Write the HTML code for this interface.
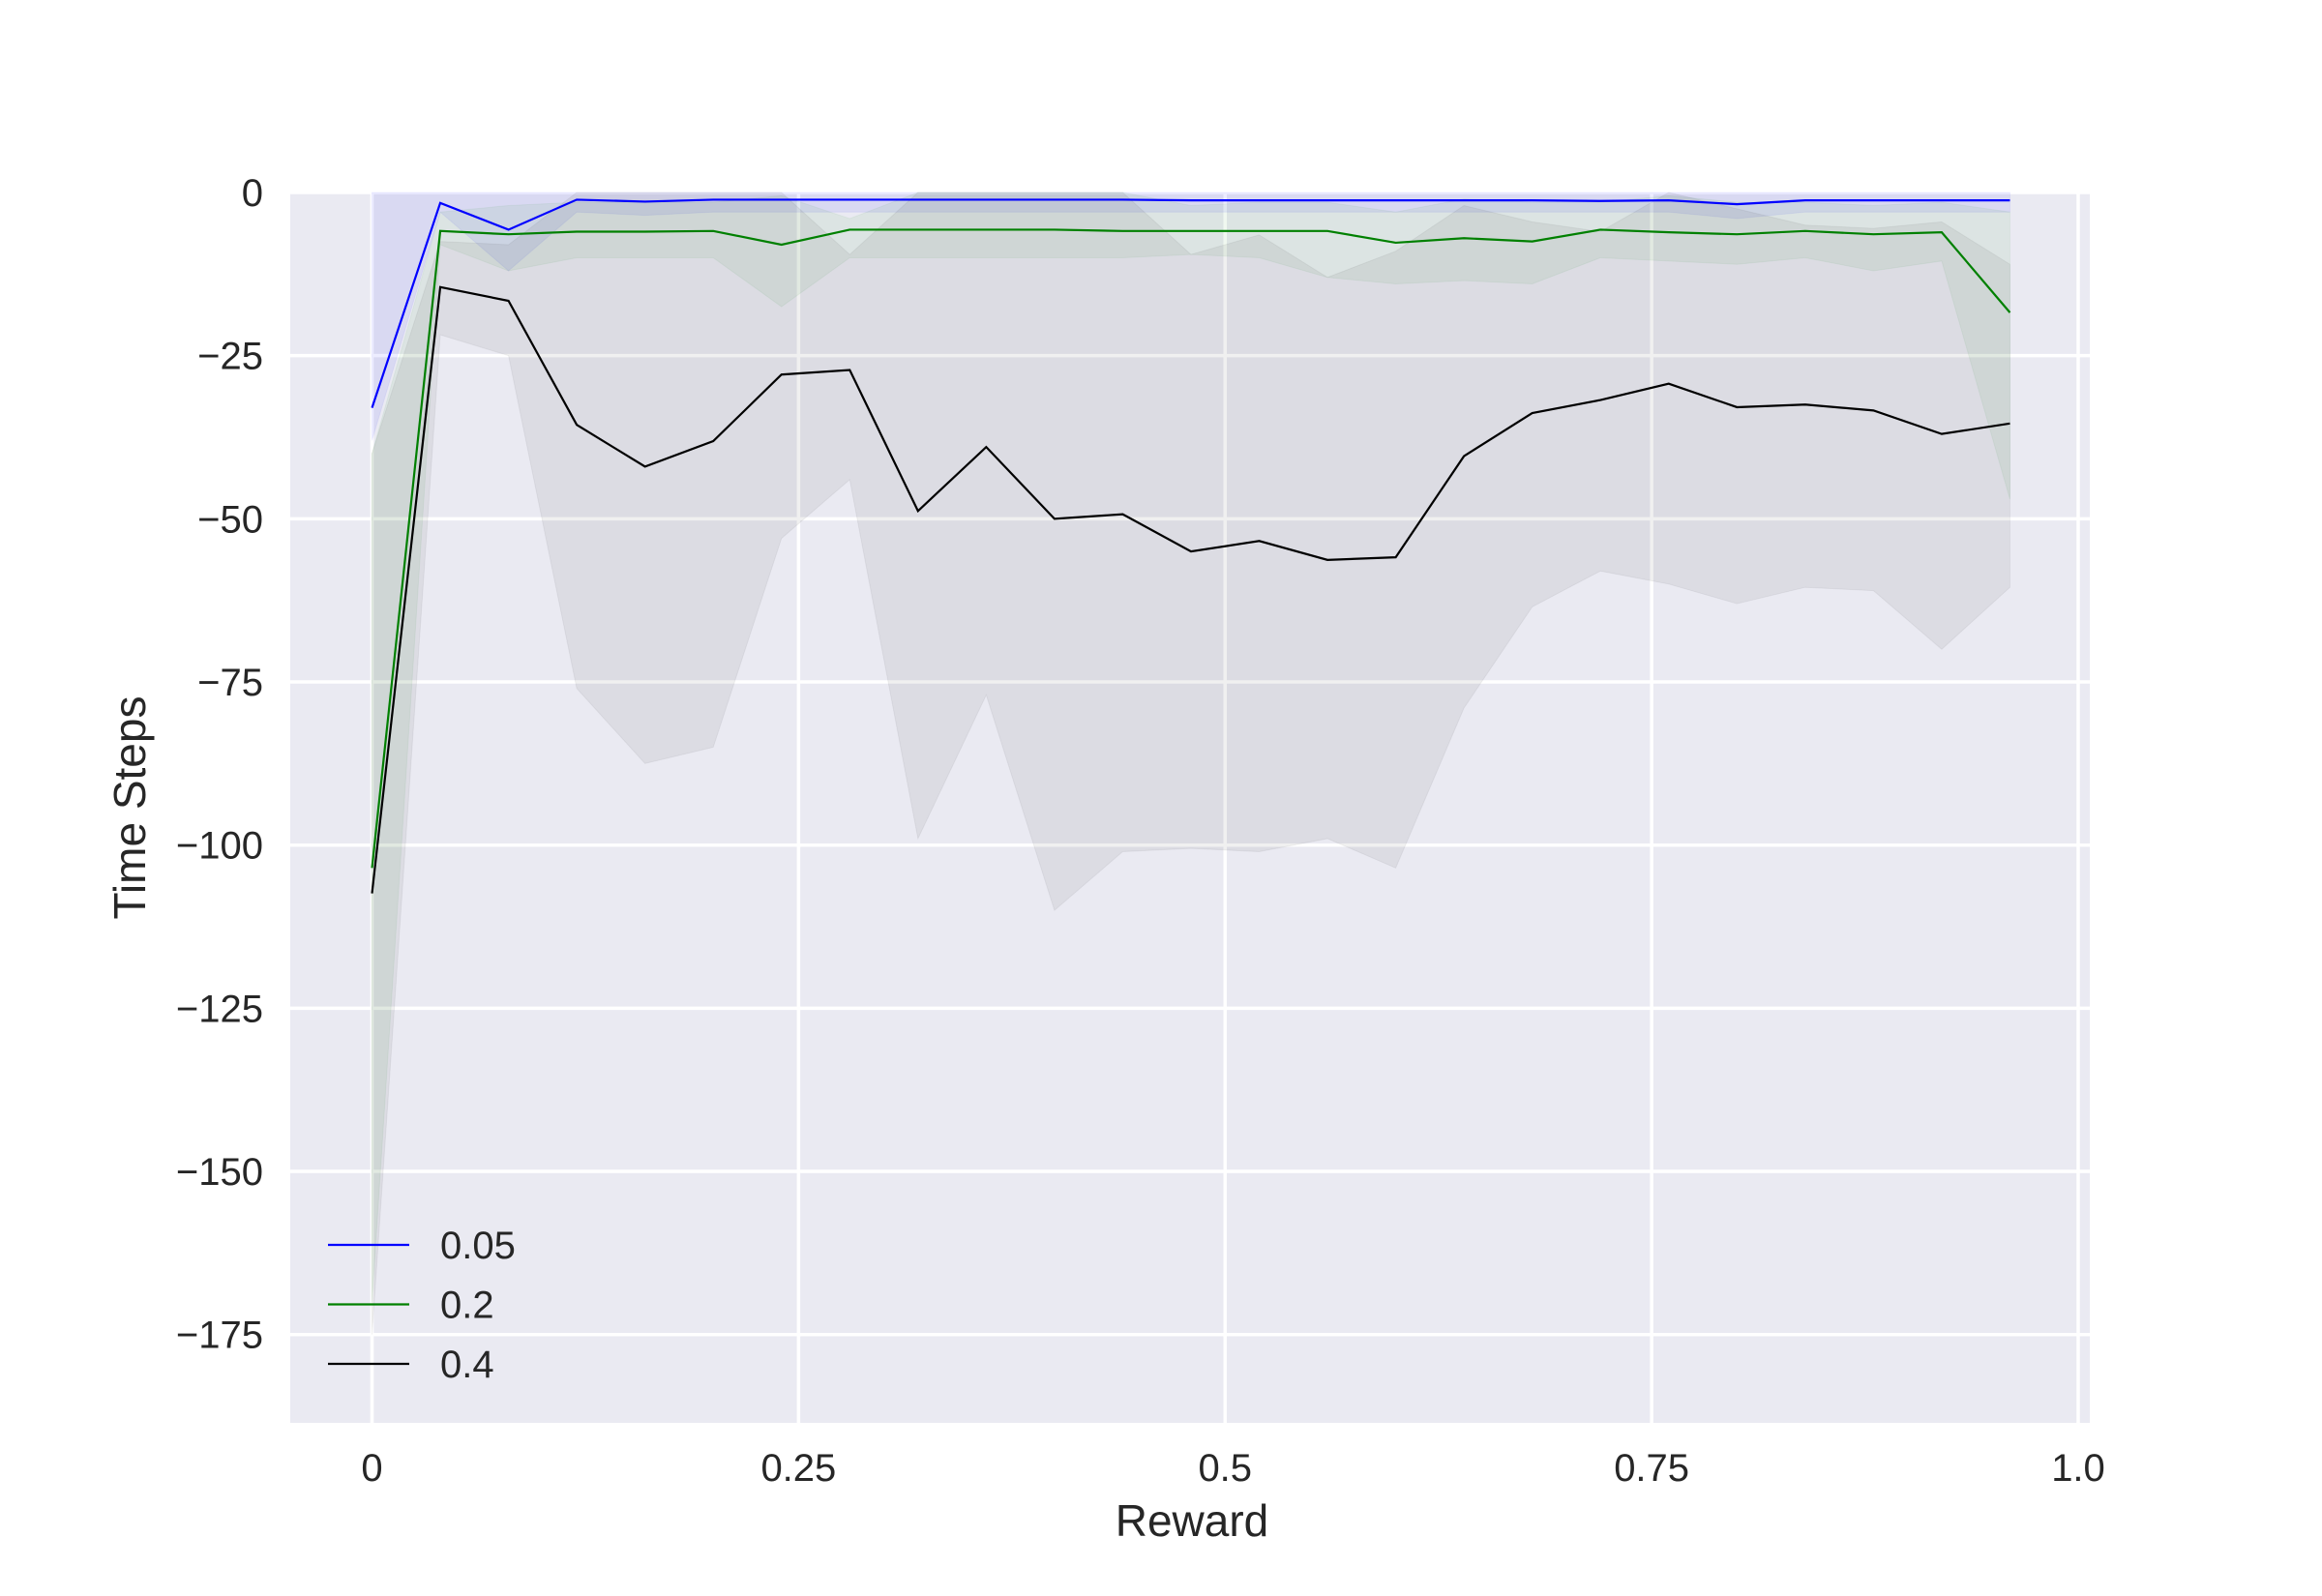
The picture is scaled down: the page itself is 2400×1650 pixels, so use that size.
<!DOCTYPE html>
<html><head><meta charset="utf-8"><style>
html,body{margin:0;padding:0;background:#fff;}
svg{display:block;font-family:"Liberation Sans",sans-serif;}
</style></head><body>
<svg id="chart" width="2400" height="1650" viewBox="0 0 2400 1650" xmlns="http://www.w3.org/2000/svg">
<rect x="300" y="199" width="1860" height="1272" fill="#eaeaf2"/>
<g id="grid"></g>
<g id="bands"></g>
<g id="lines"></g>
<g id="ticks"></g>
<text x="1232" y="1588" font-size="46" fill="#262626" text-anchor="middle">Reward</text>
<text x="150" y="835" font-size="46" fill="#262626" text-anchor="middle" transform="rotate(-90 150 835)">Time Steps</text>
<g id="legend"></g>
</svg>
<script>
const xs = [0,0.04,0.08,0.12,0.16,0.2,0.24,0.28,0.32,0.36,0.4,0.44,0.48,0.52,0.56,0.6,0.64,0.68,0.72,0.76,0.8,0.84,0.88,0.92,0.96];
const labels = ["0.05","0.2","0.4"];
const colors = ["#0000ff","#008000","#000000"];
const blueMean = [-33,-1.6,-5.7,-1.1,-1.4,-1.1,-1.1,-1.1,-1.1,-1.1,-1.1,-1.1,-1.2,-1.2,-1.2,-1.2,-1.2,-1.2,-1.3,-1.2,-1.8,-1.2,-1.2,-1.2,-1.2];
const blueLow = [-38,-3,-12,-3,-3.5,-3,-3,-3,-3,-3,-3,-3,-3,-3,-3,-3,-3,-3,-3,-3,-4,-3,-3,-3,-3];
const blueHigh = [0,0,0,0,0,0,0,0,0,0,0,0,0,0,0,0,0,0,0,0,0,0,0,0,0];
const greenMean = [-103.5,-5.9,-6.4,-6,-6,-5.9,-8,-5.7,-5.7,-5.7,-5.7,-5.9,-5.9,-5.9,-5.9,-7.7,-7,-7.5,-5.7,-6.1,-6.4,-5.9,-6.4,-6.1,-18.4];
const greenLow = [-170,-8,-12,-10,-10,-10,-17.5,-10,-10,-10,-10,-10,-9.5,-10,-13,-14,-13.5,-14,-10,-10.5,-11,-10,-12,-10.5,-47];
const greenHigh = [-40,-3,-2,-1.5,-1.5,-1.5,-0.5,-4,0,0,0,0,-2,-1.5,-1.5,-3,-1,-1.5,-1.5,-0.5,-1.5,-1.5,-2,-1.5,-3];
const blackMean = [-107.4,-14.5,-16.6,-35.6,-42,-38.1,-27.9,-27.2,-48.8,-39,-50,-49.3,-55,-53.4,-56.3,-55.9,-40.4,-33.8,-31.8,-29.3,-32.9,-32.5,-33.4,-37,-35.4];
const blackLow = [-175,-21.8,-25,-76,-87.5,-85,-53,-44,-99,-77,-110,-101,-100.5,-101,-99,-103.5,-79,-63.5,-58,-60,-63,-60.5,-61,-70,-60.5];
const blackHigh = [-40,-7.5,-8,0,0,0,0,-9.5,0,0,0,0,-9.5,-6.5,-13,-9,-2,-4.5,-6,0,-2.5,-5,-5.5,-4.5,-11];
const xTicks = [0,0.25,0.5,0.75,1.0];
const xTickLabels = ["0","0.25","0.5","0.75","1.0"];
const yTicks = [0,-25,-50,-75,-100,-125,-150,-175];
const yTickLabels = ["0","\u221225","\u221250","\u221275","\u2212100","\u2212125","\u2212150","\u2212175"];

const NS="http://www.w3.org/2000/svg";
const X0=300,X1=2160,Y0=199,Y1=1471;
function sx(v){return 384.5+v*1763.5;}
function sy(v){return 199-v*6.747;}
function mk(tag,attrs,parent){const e=document.createElementNS(NS,tag);for(const k in attrs)e.setAttribute(k,attrs[k]);parent.appendChild(e);return e;}
const grid=document.getElementById('grid'),bands=document.getElementById('bands'),lines=document.getElementById('lines'),ticks=document.getElementById('ticks'),legend=document.getElementById('legend');
xTicks.forEach((t,i)=>{
  const l=mk('line',{x1:sx(t),x2:sx(t),y1:Y0,y2:Y1,stroke:'#fff','stroke-width':3.5},grid);
  
  
  const tx=mk('text',{x:sx(t),y:1531,'font-size':40,fill:'#262626','text-anchor':'middle'},ticks);
  tx.textContent=xTickLabels[i];
  
  
});
yTicks.forEach((t,i)=>{
  const l=mk('line',{x1:X0,x2:X1,y1:sy(t),y2:sy(t),stroke:'#fff','stroke-width':3.5},grid);
  
  
  const tx=mk('text',{x:272,y:sy(t)+14,'font-size':40,fill:'#262626','text-anchor':'end'},ticks);
  tx.textContent=yTickLabels[i];
  
  
});
const series=[[blueMean,blueLow,blueHigh],[greenMean,greenLow,greenHigh],[blackMean,blackLow,blackHigh]];
series.forEach((s,k)=>{
  let d='M'+xs.map((x,i)=>sx(x)+','+sy(s[2][i])).join(' L');
  for(let i=xs.length-1;i>=0;i--)d+=' L'+sx(xs[i])+','+sy(s[1][i]);
  d+='Z';
  const b=mk('path',{d:d,fill:colors[k],'fill-opacity':k==0?0.07:0.06,stroke:colors[k],'stroke-opacity':0.05},bands);
  
  
});
series.forEach((s,k)=>{
  const p=mk('polyline',{points:xs.map((x,i)=>sx(x)+','+sy(s[0][i])).join(' '),fill:'none',stroke:colors[k],'stroke-width':2.2},lines);
  
  
});
labels.forEach((lab,k)=>{
  const y=1287+k*61.5;
  const l=mk('line',{x1:339,x2:423,y1:y,y2:y,stroke:colors[k],'stroke-width':2.2},legend);
  
  
  const t=mk('text',{x:455,y:y+14,'font-size':40,fill:'#262626'},legend);
  t.textContent=lab;
  
  
});
</script>
</body></html>
